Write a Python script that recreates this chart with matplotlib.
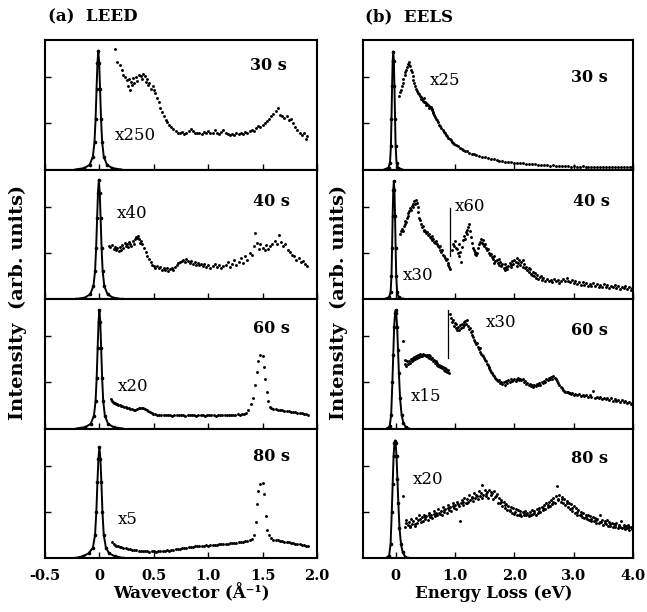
import matplotlib
matplotlib.use("Agg")
import matplotlib.pyplot as plt

plt.rcParams['font.family'] = ['DejaVu Serif']

# ---------------- (a) LEED data ----------------
leed_xticks = [-0.5, 0, 0.5, 1.0, 1.5, 2.0]
leed_xticklabels = ['-0.5', '0', '0.5', '1.0', '1.5', '2.0']

leed30_peak_x = [-0.22, -0.14, -0.09, -0.06, -0.045, -0.035, -0.026, -0.018, -0.01, -0.002, 0.006, 0.015, 0.025, 0.04, 0.07, 0.12, 0.20]
leed30_peak_y = [0, 0.03, 0.1, 0.28, 0.6, 1.1, 1.75, 2.3, 2.57, 2.3, 1.75, 1.1, 0.6, 0.28, 0.1, 0.03, 0]
leed40_peak_x = [-0.215, -0.135, -0.085, -0.055, -0.04, -0.03, -0.021, -0.013, -0.005, 0.003, 0.011, 0.02, 0.03, 0.045, 0.075, 0.125, 0.205]
leed40_peak_y = [0, 0.03, 0.1, 0.28, 0.6, 1.1, 1.75, 2.3, 2.58, 2.3, 1.75, 1.1, 0.6, 0.28, 0.1, 0.03, 0]
leed60_peak_x = [-0.21, -0.13, -0.08, -0.05, -0.035, -0.025, -0.016, -0.008, 0.0, 0.008, 0.016, 0.025, 0.035, 0.05, 0.08, 0.13, 0.21]
leed60_peak_y = [0, 0.03, 0.1, 0.28, 0.6, 1.1, 1.75, 2.3, 2.56, 2.3, 1.75, 1.1, 0.6, 0.28, 0.1, 0.03, 0]
leed80_peak_x = [-0.22, -0.15, -0.1, -0.06, -0.04, -0.028, -0.018, -0.009, 0.0, 0.009, 0.018, 0.028, 0.04, 0.06, 0.09, 0.14, 0.22]
leed80_peak_y = [0, 0.04, 0.1, 0.22, 0.5, 1.0, 1.65, 2.15, 2.39, 2.15, 1.65, 1.0, 0.5, 0.22, 0.1, 0.04, 0]

leed30_x = [0.14, 0.165, 0.185, 0.205, 0.22, 0.235, 0.25, 0.26, 0.27, 0.28, 0.29, 0.30, 0.31, 0.32, 0.335, 0.35,
            0.365, 0.38, 0.39, 0.40, 0.415, 0.43, 0.44, 0.45, 0.46, 0.475, 0.49, 0.50, 0.515, 0.53, 0.545, 0.56,
            0.575, 0.59, 0.61, 0.625, 0.64, 0.66, 0.68, 0.70, 0.72, 0.74, 0.76, 0.78, 0.80, 0.82, 0.84, 0.86,
            0.88, 0.90, 0.92, 0.94, 0.96, 0.98, 1.00, 1.02, 1.04, 1.06, 1.08, 1.10, 1.12, 1.14, 1.16, 1.18,
            1.20, 1.22, 1.24, 1.26, 1.28, 1.30, 1.32, 1.34, 1.36, 1.38, 1.40, 1.42, 1.44, 1.46, 1.48, 1.50,
            1.52, 1.54, 1.56, 1.58, 1.60, 1.62, 1.64, 1.66, 1.68, 1.70, 1.72, 1.74, 1.76, 1.78, 1.80, 1.82,
            1.84, 1.86, 1.88, 1.90, 1.91]
leed30_y = [2.60, 2.32, 2.25, 2.16, 2.05, 2.00, 1.93, 1.80, 1.95, 1.72, 1.90, 1.83, 1.97, 1.86, 2.00, 1.92,
            2.05, 2.02, 1.95, 2.07, 2.03, 1.90, 1.95, 1.82, 1.88, 1.75, 1.80, 1.72, 1.65, 1.55, 1.45, 1.33,
            1.25, 1.15, 1.08, 1.02, 0.97, 0.92, 0.88, 0.84, 0.80, 0.78, 0.82, 0.76, 0.80, 0.84, 0.88, 0.83,
            0.78, 0.80, 0.78, 0.77, 0.82, 0.79, 0.84, 0.78, 0.80, 0.86, 0.79, 0.77, 0.81, 0.86, 0.78, 0.76,
            0.74, 0.76, 0.75, 0.78, 0.76, 0.80, 0.77, 0.82, 0.78, 0.84, 0.86, 0.83, 0.90, 0.94, 0.91, 0.97,
            1.00, 1.05, 1.10, 1.16, 1.20, 1.27, 1.32, 1.18, 1.16, 1.12, 1.15, 1.08, 1.10, 1.00, 0.92, 0.86,
            0.80, 0.74, 0.78, 0.66, 0.72]

leed40_x = [0.09, 0.10, 0.115, 0.13, 0.14, 0.155, 0.165, 0.18, 0.19, 0.20, 0.21, 0.22, 0.235, 0.245, 0.255, 0.265,
            0.275, 0.285, 0.295, 0.305, 0.315, 0.325, 0.335, 0.345, 0.355, 0.365, 0.375, 0.385, 0.395, 0.41, 0.425,
            0.44, 0.455, 0.47, 0.485, 0.50, 0.515, 0.53, 0.545, 0.56, 0.575, 0.59, 0.605, 0.62, 0.635, 0.65, 0.665,
            0.68, 0.695, 0.71, 0.725, 0.74, 0.755, 0.77, 0.785, 0.80, 0.815, 0.83, 0.845, 0.86, 0.875, 0.89, 0.905,
            0.92, 0.935, 0.95, 0.965, 0.98, 1.00, 1.02, 1.04, 1.06, 1.08, 1.10, 1.12, 1.14, 1.16, 1.18, 1.20,
            1.22, 1.24, 1.26, 1.28, 1.30, 1.32, 1.34, 1.36, 1.38, 1.40, 1.42, 1.43, 1.45, 1.47, 1.48, 1.50,
            1.52, 1.53, 1.55, 1.57, 1.59, 1.61, 1.63, 1.65, 1.67, 1.69, 1.71, 1.73, 1.75, 1.77, 1.79, 1.81,
            1.83, 1.85, 1.87, 1.89, 1.91]
leed40_y = [1.15, 1.12, 1.16, 1.08, 1.12, 1.05, 1.10, 1.03, 1.12, 1.07, 1.16, 1.10, 1.22, 1.15, 1.20, 1.12,
            1.24, 1.18, 1.14, 1.26, 1.20, 1.30, 1.35, 1.32, 1.37, 1.30, 1.22, 1.26, 1.18, 1.10, 1.02,
            0.94, 0.86, 0.80, 0.74, 0.71, 0.68, 0.72, 0.66, 0.70, 0.63, 0.67, 0.62, 0.66, 0.61, 0.65, 0.68,
            0.63, 0.70, 0.73, 0.77, 0.80, 0.82, 0.85, 0.80, 0.87, 0.83, 0.78, 0.82, 0.76, 0.80, 0.74, 0.78,
            0.73, 0.76, 0.72, 0.75, 0.70, 0.74, 0.68, 0.72, 0.76, 0.69, 0.73, 0.67, 0.71, 0.74, 0.79, 0.70,
            0.76, 0.84, 0.74, 0.80, 0.88, 0.77, 0.92, 0.85, 1.00, 0.95, 1.14, 1.42, 1.22, 1.08, 1.18, 1.10,
            1.05, 1.16, 1.08, 1.14, 1.20, 1.25, 1.18, 1.38, 1.24, 1.15, 1.20, 1.06, 1.02, 0.95, 0.92, 0.85,
            0.88, 0.80, 0.83, 0.76, 0.72]

leed60_x = [0.105, 0.115, 0.125, 0.135, 0.145, 0.155, 0.165, 0.175, 0.185, 0.195, 0.21, 0.225, 0.24, 0.255, 0.27,
            0.285, 0.30, 0.315, 0.33, 0.345, 0.36, 0.375, 0.39, 0.405, 0.42, 0.435, 0.45, 0.465, 0.48, 0.495,
            0.51, 0.53, 0.55, 0.57, 0.59, 0.61, 0.63, 0.65, 0.67, 0.69, 0.71, 0.73, 0.75, 0.77, 0.79, 0.81,
            0.83, 0.85, 0.87, 0.89, 0.91, 0.93, 0.95, 0.97, 0.99, 1.01, 1.03, 1.05, 1.07, 1.09, 1.11, 1.13,
            1.15, 1.17, 1.19, 1.21, 1.23, 1.25, 1.27, 1.29, 1.31, 1.33, 1.35, 1.37, 1.39, 1.41, 1.43, 1.445,
            1.46, 1.48, 1.50, 1.515, 1.525, 1.54, 1.55, 1.565, 1.58, 1.60, 1.62, 1.64, 1.66, 1.68, 1.70, 1.72,
            1.74, 1.76, 1.78, 1.80, 1.82, 1.84, 1.86, 1.88, 1.90, 1.92]
leed60_y = [0.64, 0.60, 0.58, 0.56, 0.55, 0.53, 0.53, 0.51, 0.50, 0.49, 0.48, 0.47, 0.46, 0.45, 0.44,
            0.43, 0.42, 0.41, 0.41, 0.42, 0.44, 0.45, 0.45, 0.44, 0.42, 0.40, 0.38, 0.36, 0.34, 0.32,
            0.31, 0.30, 0.29, 0.30, 0.29, 0.29, 0.30, 0.29, 0.28, 0.29, 0.29, 0.30, 0.29, 0.29, 0.28, 0.29,
            0.30, 0.29, 0.29, 0.28, 0.29, 0.30, 0.29, 0.28, 0.29, 0.29, 0.30, 0.29, 0.28, 0.29, 0.29, 0.30,
            0.29, 0.29, 0.30, 0.29, 0.30, 0.30, 0.31, 0.30, 0.31, 0.32, 0.34, 0.40, 0.52, 0.66, 0.95, 1.22,
            1.45, 1.59, 1.56, 1.34, 1.06, 0.80, 0.59, 0.47, 0.44, 0.43, 0.42, 0.41, 0.40, 0.39, 0.38, 0.38,
            0.37, 0.36, 0.35, 0.35, 0.34, 0.33, 0.33, 0.32, 0.31, 0.30]

leed80_x = [0.12, 0.13, 0.14, 0.155, 0.17, 0.185, 0.20, 0.22, 0.24, 0.26, 0.28, 0.30, 0.32, 0.34, 0.36, 0.38,
            0.40, 0.42, 0.44, 0.46, 0.48, 0.50, 0.52, 0.54, 0.56, 0.58, 0.60, 0.62, 0.64, 0.66, 0.68, 0.70,
            0.72, 0.74, 0.76, 0.78, 0.80, 0.82, 0.84, 0.86, 0.88, 0.90, 0.92, 0.94, 0.96, 0.98, 1.00, 1.02,
            1.04, 1.06, 1.08, 1.10, 1.12, 1.14, 1.16, 1.18, 1.20, 1.22, 1.24, 1.26, 1.28, 1.30, 1.32, 1.34,
            1.36, 1.38, 1.40, 1.42, 1.44, 1.45, 1.46, 1.48, 1.50, 1.515, 1.53, 1.545, 1.56, 1.58, 1.60, 1.62,
            1.64, 1.66, 1.68, 1.70, 1.72, 1.74, 1.76, 1.78, 1.80, 1.82, 1.84, 1.86, 1.88, 1.90, 1.92]
leed80_y = [0.35, 0.31, 0.29, 0.27, 0.25, 0.24, 0.23, 0.22, 0.21, 0.20, 0.19, 0.18, 0.17, 0.17, 0.16, 0.16,
            0.15, 0.15, 0.15, 0.14, 0.15, 0.15, 0.14, 0.15, 0.16, 0.15, 0.16, 0.17, 0.16, 0.17, 0.18, 0.19,
            0.19, 0.20, 0.21, 0.21, 0.22, 0.23, 0.24, 0.23, 0.25, 0.25, 0.26, 0.26, 0.27, 0.28, 0.27, 0.28,
            0.29, 0.28, 0.29, 0.30, 0.30, 0.31, 0.30, 0.31, 0.32, 0.32, 0.33, 0.33, 0.34, 0.34, 0.35, 0.36,
            0.37, 0.39, 0.42, 0.50, 0.77, 1.17, 1.45, 1.61, 1.62, 1.39, 0.90, 0.61, 0.50, 0.43, 0.40, 0.39,
            0.38, 0.37, 0.36, 0.35, 0.34, 0.34, 0.33, 0.32, 0.31, 0.31, 0.30, 0.29, 0.28, 0.27, 0.26]

# ---------------- (b) EELS data ----------------
eels_xticks = [0, 1.0, 2.0, 3.0, 4.0]
eels_xticklabels = ['0', '1.0', '2.0', '3.0', '4.0']

eels30_peak_x = [-0.19, -0.12, -0.095, -0.08, -0.07, -0.06, -0.05, -0.04, -0.03, -0.02, -0.01, 0.0, 0.015, 0.04, 0.11]
eels30_peak_y = [0, 0.04, 0.15, 0.5, 1.1, 1.8, 2.35, 2.55, 2.35, 1.8, 1.1, 0.5, 0.15, 0.04, 0]
eels40_peak_x = [-0.18, -0.11, -0.085, -0.07, -0.06, -0.05, -0.04, -0.03, -0.02, -0.01, 0.0, 0.01, 0.025, 0.05, 0.12]
eels40_peak_y = [0, 0.04, 0.15, 0.5, 1.1, 1.8, 2.35, 2.55, 2.35, 1.8, 1.1, 0.5, 0.15, 0.04, 0]
eels60_peak_x = [-0.15, -0.1, -0.075, -0.055, -0.04, -0.025, -0.01, 0.0, 0.01, 0.025, 0.04, 0.055, 0.075, 0.1, 0.13, 0.17, 0.22]
eels60_peak_y = [0, 0.05, 0.3, 1.0, 1.6, 2.2, 2.5, 2.56, 2.5, 2.2, 1.7, 1.2, 0.65, 0.3, 0.12, 0.03, 0]
eels80_peak_x = [-0.16, -0.11, -0.085, -0.065, -0.05, -0.035, -0.02, -0.01, 0.0, 0.015, 0.03, 0.045, 0.065, 0.09, 0.12, 0.16, 0.21]
eels80_peak_y = [0, 0.05, 0.3, 1.0, 1.6, 2.2, 2.48, 2.54, 2.48, 2.2, 1.7, 1.2, 0.65, 0.3, 0.12, 0.03, 0]

eels30_x = [0.05, 0.07, 0.09, 0.10, 0.12, 0.13, 0.15, 0.16, 0.18, 0.19, 0.21, 0.22, 0.23, 0.245, 0.26, 0.27,
            0.285, 0.30, 0.31, 0.33, 0.345, 0.36, 0.375, 0.39, 0.405, 0.42, 0.435, 0.45, 0.465, 0.47, 0.48, 0.50,
            0.515, 0.52, 0.53, 0.545, 0.56, 0.57, 0.575, 0.59, 0.60, 0.605, 0.62, 0.63, 0.635, 0.65, 0.665, 0.68,
            0.695, 0.71, 0.73, 0.75, 0.77, 0.79, 0.81, 0.83, 0.85, 0.87, 0.89, 0.91, 0.93, 0.95, 0.97, 0.99,
            1.02, 1.05, 1.08, 1.11, 1.14, 1.17, 1.20, 1.24, 1.28, 1.32, 1.36, 1.40, 1.45, 1.50, 1.55, 1.60,
            1.65, 1.70, 1.75, 1.80, 1.85, 1.90, 1.95, 2.00, 2.05, 2.10, 2.15, 2.20, 2.25, 2.30, 2.35, 2.40,
            2.45, 2.50, 2.55, 2.60, 2.65, 2.70, 2.75, 2.80, 2.85, 2.90, 2.95, 3.00, 3.05, 3.10, 3.15, 3.20,
            3.25, 3.30, 3.35, 3.40, 3.45, 3.50, 3.55, 3.60, 3.65, 3.70, 3.75, 3.80, 3.85, 3.90, 3.95, 3.98]
eels30_y = [1.60, 1.68, 1.72, 1.80, 1.88, 1.95, 2.05, 2.10, 2.15, 2.22, 2.28, 2.32, 2.26, 2.24, 2.15, 2.10,
            2.02, 1.93, 1.88, 1.80, 1.74, 1.70, 1.66, 1.63, 1.58, 1.56, 1.53, 1.52, 1.49, 1.55, 1.47, 1.45,
            1.43, 1.40, 1.42, 1.40, 1.37, 1.33, 1.35, 1.32, 1.36, 1.30, 1.28, 1.25, 1.22, 1.18, 1.14, 1.10,
            1.06, 1.02, 0.97, 0.93, 0.89, 0.85, 0.82, 0.78, 0.75, 0.72, 0.69, 0.66, 0.63, 0.60, 0.58, 0.56,
            0.53, 0.50, 0.47, 0.45, 0.43, 0.41, 0.39, 0.36, 0.34, 0.33, 0.31, 0.29, 0.27, 0.26, 0.24, 0.23,
            0.22, 0.20, 0.19, 0.18, 0.17, 0.17, 0.16, 0.15, 0.14, 0.14, 0.13, 0.12, 0.12, 0.11, 0.11, 0.10,
            0.10, 0.09, 0.09, 0.08, 0.09, 0.08, 0.07, 0.08, 0.07, 0.07, 0.06, 0.07, 0.06, 0.06, 0.07, 0.06,
            0.05, 0.06, 0.05, 0.06, 0.05, 0.06, 0.05, 0.05, 0.06, 0.05, 0.05, 0.06, 0.05, 0.05, 0.06, 0.05]

eels40a_x = [0.08, 0.095, 0.11, 0.12, 0.135, 0.15, 0.16, 0.175, 0.19, 0.20, 0.215, 0.23, 0.245, 0.26, 0.27,
             0.285, 0.30, 0.31, 0.325, 0.34, 0.355, 0.37, 0.385, 0.40, 0.41, 0.425, 0.44, 0.455, 0.47, 0.485,
             0.50, 0.515, 0.53, 0.545, 0.56, 0.575, 0.59, 0.605, 0.62, 0.635, 0.65, 0.665, 0.68, 0.695, 0.71,
             0.725, 0.74, 0.755, 0.77, 0.785, 0.80, 0.815, 0.83, 0.845, 0.86, 0.875, 0.89, 0.905, 0.92]
eels40a_y = [1.40, 1.46, 1.52, 1.48, 1.58, 1.62, 1.68, 1.66, 1.75, 1.80, 1.85, 1.90, 1.96, 1.92, 2.02,
             2.06, 2.00, 2.12, 2.05, 2.15, 2.08, 1.98, 1.88, 1.75, 1.70, 1.62, 1.55, 1.58, 1.50, 1.46,
             1.48, 1.42, 1.44, 1.38, 1.40, 1.35, 1.32, 1.36, 1.28, 1.30, 1.24, 1.22, 1.25, 1.18, 1.15,
             1.12, 1.15, 1.06, 1.02, 1.05, 0.96, 0.92, 0.88, 0.84, 0.86, 0.78, 0.74, 0.70, 0.64]

eels40b_x = [0.95, 0.97, 0.985, 1.00, 1.015, 1.03, 1.045, 1.06, 1.075, 1.09, 1.105, 1.12, 1.135, 1.15, 1.165,
             1.18, 1.195, 1.21, 1.225, 1.24, 1.255, 1.27, 1.285, 1.30, 1.315, 1.33, 1.345, 1.36, 1.375, 1.39,
             1.405, 1.42, 1.435, 1.45, 1.465, 1.48, 1.495, 1.51, 1.525, 1.54, 1.555, 1.57, 1.585, 1.60, 1.62,
             1.64, 1.65, 1.66, 1.68, 1.70, 1.72, 1.74, 1.75, 1.76, 1.78, 1.80, 1.82, 1.84, 1.85, 1.86, 1.88,
             1.90, 1.92, 1.94, 1.95, 1.96, 1.98, 2.00, 2.02, 2.04, 2.05, 2.06, 2.08, 2.10, 2.12, 2.14, 2.15,
             2.16, 2.18, 2.20, 2.22, 2.24, 2.25, 2.26, 2.28, 2.30, 2.32, 2.34, 2.35, 2.36, 2.38, 2.40, 2.43,
             2.45, 2.46, 2.49, 2.52, 2.55, 2.58, 2.61, 2.64, 2.67, 2.70, 2.73, 2.76, 2.79, 2.82, 2.85, 2.88,
             2.91, 2.94, 2.97, 3.00, 3.03, 3.06, 3.09, 3.12, 3.15, 3.18, 3.21, 3.24, 3.27, 3.30, 3.33, 3.36,
             3.39, 3.42, 3.45, 3.48, 3.51, 3.54, 3.57, 3.60, 3.63, 3.66, 3.69, 3.72, 3.75, 3.78, 3.81, 3.84,
             3.87, 3.90, 3.93, 3.96, 3.99]
eels40b_y = [1.05, 1.20, 1.15, 1.25, 1.10, 1.08, 1.00, 1.18, 0.92, 1.02, 0.80, 1.12, 1.28, 1.36, 1.30,
             1.45, 1.40, 1.50, 1.56, 1.62, 1.48, 1.35, 1.22, 1.10, 1.05, 0.98, 1.02, 0.95, 1.00, 1.10,
             1.18, 1.24, 1.30, 1.22, 1.28, 1.20, 1.15, 1.18, 1.10, 1.05, 1.08, 1.00, 0.95, 0.98, 0.90,
             0.86, 0.78, 0.92, 0.82, 0.85, 0.78, 0.74, 0.86, 0.80, 0.72, 0.76, 0.68, 0.75, 0.62, 0.70, 0.64,
             0.72, 0.78, 0.70, 0.74, 0.82, 0.76, 0.85, 0.80, 0.88, 0.72, 0.78, 0.84, 0.74, 0.80, 0.70, 0.84,
             0.76, 0.66, 0.70, 0.62, 0.58, 0.68, 0.64, 0.55, 0.52, 0.58, 0.50, 0.56, 0.46, 0.52, 0.44, 0.48,
             0.50, 0.42, 0.46, 0.40, 0.44, 0.38, 0.42, 0.37, 0.44, 0.38, 0.41, 0.35, 0.40, 0.44, 0.38, 0.46,
             0.40, 0.36, 0.42, 0.35, 0.39, 0.33, 0.37, 0.31, 0.36, 0.30, 0.34, 0.28, 0.33, 0.29, 0.35, 0.28,
             0.32, 0.26, 0.31, 0.27, 0.33, 0.26, 0.30, 0.24, 0.29, 0.25, 0.31, 0.24, 0.28, 0.22, 0.27, 0.23,
             0.28, 0.21, 0.25, 0.20, 0.23]
eels40_sep_x = [0.92, 0.92]
eels40_sep_y = [0.93, 1.97]

eels60a_x = [0.12, 0.150, 0.165, 0.180, 0.195, 0.210, 0.225, 0.240, 0.255, 0.270, 0.285, 0.300, 0.315, 0.330, 0.345,
             0.360, 0.375, 0.390, 0.405, 0.420, 0.435, 0.450, 0.465, 0.480, 0.495, 0.510, 0.525, 0.540, 0.555,
             0.570, 0.585, 0.600, 0.615, 0.630, 0.645, 0.660, 0.675, 0.690, 0.705, 0.720, 0.735, 0.750, 0.765,
             0.780, 0.795, 0.810, 0.825, 0.840, 0.855, 0.870, 0.885, 0.900]
eels60a_y = [1.90, 1.48, 1.40, 1.36, 1.45, 1.40, 1.47, 1.42, 1.50, 1.45, 1.52, 1.48, 1.55, 1.50, 1.57,
             1.53, 1.59, 1.55, 1.61, 1.56, 1.60, 1.57, 1.62, 1.58, 1.60, 1.56, 1.60, 1.55, 1.58,
             1.52, 1.56, 1.50, 1.53, 1.46, 1.49, 1.42, 1.45, 1.38, 1.41, 1.35, 1.38, 1.32, 1.35,
             1.30, 1.33, 1.27, 1.30, 1.25, 1.28, 1.22, 1.26, 1.20]

eels60b_x = [0.92, 0.935, 0.95, 0.965, 0.98, 0.995, 1.01, 1.025, 1.04, 1.055, 1.07, 1.085, 1.10, 1.115, 1.13,
             1.145, 1.16, 1.175, 1.19, 1.205, 1.22, 1.235, 1.25, 1.265, 1.28, 1.295, 1.31, 1.325, 1.34, 1.355,
             1.37, 1.385, 1.40, 1.415, 1.43, 1.445, 1.46, 1.475, 1.49, 1.505, 1.52, 1.535, 1.55, 1.565, 1.58,
             1.595, 1.61, 1.625, 1.64, 1.655, 1.67, 1.685, 1.70, 1.72, 1.74, 1.76, 1.78, 1.80, 1.82, 1.84,
             1.86, 1.88, 1.90, 1.92, 1.94, 1.96, 1.98, 2.00, 2.02, 2.04, 2.06, 2.08, 2.10, 2.12, 2.14, 2.16,
             2.18, 2.20, 2.22, 2.24, 2.26, 2.28, 2.30, 2.32, 2.34, 2.36, 2.38, 2.40, 2.42, 2.44, 2.46, 2.48,
             2.50, 2.52, 2.54, 2.56, 2.58, 2.60, 2.62, 2.64, 2.66, 2.68, 2.70, 2.72, 2.74, 2.76, 2.78, 2.80,
             2.82, 2.84, 2.86, 2.88, 2.90, 2.92, 2.94, 2.96, 2.98, 3.00, 3.03, 3.06, 3.09, 3.12, 3.15, 3.18,
             3.21, 3.24, 3.27, 3.30, 3.33, 3.36, 3.39, 3.42, 3.45, 3.48, 3.51, 3.54, 3.57, 3.60, 3.63, 3.66,
             3.69, 3.72, 3.75, 3.78, 3.81, 3.84, 3.87, 3.90, 3.93, 3.96, 3.99]
eels60b_y = [2.48, 2.38, 2.30, 2.34, 2.22, 2.28, 2.18, 2.25, 2.14, 2.20, 2.12, 2.24, 2.18, 2.26, 2.20,
             2.30, 2.24, 2.32, 2.26, 2.34, 2.22, 2.15, 2.18, 2.08, 2.10, 2.02, 1.98, 1.92, 1.88, 1.82,
             1.85, 1.76, 1.72, 1.74, 1.66, 1.62, 1.60, 1.56, 1.52, 1.48, 1.45, 1.40, 1.38, 1.33, 1.30,
             1.26, 1.22, 1.20, 1.16, 1.14, 1.10, 1.08, 1.05, 1.02, 1.04, 0.98, 1.00, 0.96, 1.00, 0.95,
             1.02, 0.98, 1.04, 1.00, 1.06, 1.02, 1.05, 1.08, 1.02, 1.06, 1.10, 1.05, 1.08, 1.04, 1.06, 1.00,
             1.02, 0.96, 0.98, 0.94, 0.96, 0.92, 0.95, 0.90, 0.94, 0.92, 0.96, 0.93, 0.98, 0.95, 1.00, 0.98,
             1.03, 1.00, 1.06, 1.04, 1.10, 1.06, 1.12, 1.08, 1.14, 1.10, 1.06, 1.02, 0.98, 0.94, 0.90, 0.87,
             0.84, 0.82, 0.80, 0.78, 0.79, 0.76, 0.77, 0.74, 0.76, 0.73, 0.75, 0.72, 0.74, 0.71, 0.73, 0.70,
             0.72, 0.69, 0.73, 0.68, 0.82, 0.67, 0.69, 0.65, 0.68, 0.64, 0.67, 0.63, 0.66, 0.62, 0.65, 0.60,
             0.63, 0.59, 0.62, 0.58, 0.61, 0.57, 0.60, 0.55, 0.58, 0.54, 0.56]
eels60_sep_x = [0.89, 0.89]
eels60_sep_y = [1.52, 2.56]

eels80_x = [0.12, 0.16, 0.18, 0.20, 0.22, 0.24, 0.26, 0.28, 0.30, 0.32, 0.34, 0.36, 0.38, 0.40, 0.42, 0.44,
            0.46, 0.48, 0.50, 0.52, 0.54, 0.56, 0.58, 0.60, 0.62, 0.64, 0.66, 0.68, 0.70, 0.72, 0.74, 0.76,
            0.78, 0.80, 0.82, 0.84, 0.86, 0.88, 0.90, 0.92, 0.94, 0.96, 0.98, 1.00, 1.02, 1.04, 1.06, 1.08,
            1.10, 1.12, 1.14, 1.16, 1.18, 1.20, 1.22, 1.24, 1.26, 1.28, 1.30, 1.32, 1.34, 1.36, 1.38, 1.40,
            1.42, 1.44, 1.46, 1.48, 1.50, 1.52, 1.54, 1.56, 1.58, 1.60, 1.62, 1.64, 1.66, 1.68, 1.70, 1.72,
            1.74, 1.76, 1.78, 1.80, 1.82, 1.84, 1.86, 1.88, 1.90, 1.92, 1.94, 1.96, 1.98, 2.00, 2.02, 2.04,
            2.06, 2.08, 2.10, 2.12, 2.14, 2.16, 2.18, 2.20, 2.22, 2.24, 2.26, 2.28, 2.30, 2.32, 2.34, 2.36,
            2.38, 2.40, 2.42, 2.44, 2.46, 2.48, 2.50, 2.52, 2.54, 2.56, 2.58, 2.60, 2.62, 2.64, 2.66, 2.68,
            2.70, 2.72, 2.74, 2.76, 2.78, 2.80, 2.82, 2.84, 2.86, 2.88, 2.90, 2.92, 2.94, 2.96, 2.98, 3.00,
            3.02, 3.04, 3.06, 3.08, 3.10, 3.12, 3.14, 3.16, 3.18, 3.20, 3.22, 3.24, 3.26, 3.28, 3.30, 3.32,
            3.34, 3.36, 3.38, 3.40, 3.42, 3.44, 3.46, 3.48, 3.50, 3.52, 3.54, 3.56, 3.58, 3.60, 3.62, 3.64,
            3.66, 3.68, 3.70, 3.72, 3.74, 3.76, 3.78, 3.80, 3.82, 3.84, 3.86, 3.88, 3.90, 3.92, 3.94, 3.96,
            3.98]
eels80_y = [1.33, 0.68, 0.82, 0.72, 0.78, 0.66, 0.84, 0.74, 0.80, 0.70, 0.86, 0.76, 0.82, 0.92, 0.78, 0.88,
            0.80, 0.94, 0.84, 0.90, 0.82, 0.98, 0.88, 0.94, 0.86, 1.02, 0.90, 0.98, 0.92, 1.06, 0.96, 1.02,
            0.94, 1.10, 1.00, 1.06, 0.98, 1.14, 1.04, 1.10, 1.02, 1.18, 1.08, 1.14, 1.06, 1.22, 1.12, 0.80,
            1.18, 1.26, 1.14, 1.30, 1.20, 1.28, 1.22, 1.36, 1.26, 1.32, 1.24, 1.40, 1.30, 1.36, 1.28, 1.44,
            1.34, 1.40, 1.58, 1.36, 1.46, 1.34, 1.42, 1.30, 1.48, 1.36, 1.40, 1.28, 1.44, 1.32, 1.38, 1.20,
            1.30, 1.18, 1.26, 1.12, 1.22, 1.08, 1.16, 1.04, 1.12, 1.02, 1.10, 0.98, 1.08, 0.96, 1.06, 0.94,
            1.04, 0.92, 1.02, 0.90, 1.00, 0.94, 1.02, 0.92, 0.98, 0.90, 1.00, 0.94, 1.04, 0.96, 1.02, 0.94,
            1.06, 0.98, 1.08, 1.00, 1.10, 1.04, 1.14, 1.06, 1.18, 1.10, 1.22, 1.12, 1.26, 1.16, 1.30, 1.20,
            1.34, 1.55, 1.26, 1.36, 1.22, 1.32, 1.18, 1.28, 1.14, 1.24, 1.10, 1.20, 1.06, 1.16, 1.02, 1.12,
            0.98, 1.08, 0.94, 1.04, 0.92, 1.00, 0.88, 0.98, 0.86, 0.94, 0.84, 0.92, 0.82, 0.90, 0.80, 0.88,
            0.80, 0.86, 0.76, 0.84, 0.76, 0.92, 0.78, 0.82, 0.72, 0.80, 0.74, 0.82, 0.70, 0.78, 0.70, 0.76,
            0.66, 0.74, 0.68, 0.76, 0.64, 0.72, 0.66, 0.80, 0.64, 0.72, 0.62, 0.70, 0.64, 0.72, 0.60, 0.68,
            0.62]
# additional scattered dots of the 80 s spectrum
eels80b_x = [0.17, 0.25, 0.33, 0.41, 0.49, 0.57, 0.65, 0.73, 0.81, 0.89, 0.97, 1.05, 1.13, 1.21, 1.29, 1.37,
             1.45, 1.53, 1.61, 1.69, 1.77, 1.85, 1.93, 2.01, 2.09, 2.17, 2.25, 2.33, 2.41, 2.49, 2.57, 2.65,
             2.73, 2.81, 2.89, 2.97, 3.05, 3.13, 3.21, 3.29, 3.37, 3.45, 3.53, 3.61, 3.69, 3.77, 3.85, 3.93]
eels80b_y = [0.76, 0.70, 0.74, 0.84, 0.88, 0.92, 0.96, 0.98, 1.04, 1.08, 1.12, 1.16, 1.22, 1.20, 1.30, 1.34,
             1.30, 1.38, 1.42, 1.34, 1.22, 1.14, 1.04, 1.00, 0.96, 0.98, 0.94, 0.98, 1.02, 1.08, 1.14, 1.22,
             1.28, 1.28, 1.18, 1.08, 1.00, 0.94, 0.88, 0.84, 0.82, 0.78, 0.76, 0.74, 0.72, 0.70, 0.66, 0.66]

# ---------------- labels ----------------
times = ['30 s', '40 s', '60 s', '80 s']
leed_factors = ['x250', 'x40', 'x20', 'x5']
leed_factor_pos = [(0.257, 0.26), (0.264, 0.66), (0.268, 0.325), (0.268, 0.295)]
leed_time_pos = [(0.754, 0.805), (0.765, 0.755), (0.765, 0.775), (0.765, 0.785)]
eels_time_pos = [(0.77, 0.71), (0.778, 0.755), (0.77, 0.76), (0.77, 0.77)]
eels_factors = [[('x25', 0.247, 0.685)],
                [('x60', 0.34, 0.715), ('x30', 0.148, 0.18)],
                [('x30', 0.455, 0.82), ('x15', 0.178, 0.25)],
                [('x20', 0.185, 0.605)]]

leed_peaks = [(leed30_peak_x, leed30_peak_y), (leed40_peak_x, leed40_peak_y),
              (leed60_peak_x, leed60_peak_y), (leed80_peak_x, leed80_peak_y)]
leed_series = [[(leed30_x, leed30_y)], [(leed40_x, leed40_y)], [(leed60_x, leed60_y)], [(leed80_x, leed80_y)]]
eels_peaks = [(eels30_peak_x, eels30_peak_y), (eels40_peak_x, eels40_peak_y),
              (eels60_peak_x, eels60_peak_y), (eels80_peak_x, eels80_peak_y)]
eels_series = [[(eels30_x, eels30_y)], [(eels40a_x, eels40a_y), (eels40b_x, eels40b_y)],
               [(eels60a_x, eels60a_y), (eels60b_x, eels60b_y)],
               [(eels80_x, eels80_y), (eels80b_x, eels80b_y)]]
eels_seps = [None, (eels40_sep_x, eels40_sep_y), (eels60_sep_x, eels60_sep_y), None]

# ---------------- figure ----------------
W_PX, H_PX = 647, 612
fig = plt.figure(figsize=(W_PX / 100, H_PX / 100), dpi=100)

top = 1 - 40 / H_PX
bottom = 1 - 558 / H_PX
ph = (top - bottom) / 4

def make_col(left_px, right_px, xlim, xticks, xticklabels, peaks, series, time_pos, factor_list, seps):
    axes = []
    for i in range(4):
        ax = fig.add_axes([left_px / W_PX, top - (i + 1) * ph, (right_px - left_px) / W_PX, ph])
        ax.set_xlim(*xlim)
        ax.set_ylim(0, 2.8)
        px, py = peaks[i]
        ax.plot(px, py, color='black', lw=1.4, marker='o', ms=1.6, zorder=3)
        for sx, sy in series[i]:
            ax.plot(sx, sy, ls='none', marker='o', ms=2.1, color='black', mec='none')
        if seps[i] is not None:
            ax.plot(seps[i][0], seps[i][1], color='black', lw=0.9)
        ax.set_yticks([1, 2])
        ax.set_yticklabels([])
        ax.set_xticks(xticks)
        if i == 3:
            ax.set_xticklabels(xticklabels, fontsize=10.5, fontweight='bold')
        else:
            ax.set_xticklabels([])
        ax.tick_params(direction='in', length=4, width=1.0, top=False, right=False, pad=8)
        for s in ax.spines.values():
            s.set_linewidth(1.5)
        ax.text(time_pos[i][0], time_pos[i][1], times[i], transform=ax.transAxes,
                fontsize=11.5, fontweight='bold', va='center', ha='left')
        for lab, fx, fy in factor_list[i]:
            ax.text(fx, fy, lab, transform=ax.transAxes, fontsize=12, va='center', ha='left')
        axes.append(ax)
    return axes

make_col(45, 317, (-0.5, 2.0), leed_xticks, leed_xticklabels, leed_peaks, leed_series,
         leed_time_pos, [[(leed_factors[i], leed_factor_pos[i][0], leed_factor_pos[i][1])] for i in range(4)],
         [None] * 4)
make_col(363, 633, (-0.55, 4.0), eels_xticks, eels_xticklabels, eels_peaks, eels_series,
         eels_time_pos, eels_factors, eels_seps)

fig.text(48 / W_PX, 1 - 17 / H_PX, '(a)  LEED', fontsize=12, fontweight='bold', va='center', ha='left')
fig.text(365 / W_PX, 1 - 17 / H_PX, '(b)  EELS', fontsize=12, fontweight='bold', va='center', ha='left')
fig.text(18 / W_PX, 1 - 302 / H_PX, 'Intensity  (arb. units)', rotation=90, fontsize=14,
         fontweight='bold', va='center', ha='center')
fig.text(339 / W_PX, 1 - 302 / H_PX, 'Intensity  (arb. units)', rotation=90, fontsize=14,
         fontweight='bold', va='center', ha='center')
fig.text(191 / W_PX, 1 - 593 / H_PX, 'Wavevector (Å⁻¹)', fontsize=12, fontweight='bold', va='center', ha='center')
fig.text(494 / W_PX, 1 - 593 / H_PX, 'Energy Loss (eV)', fontsize=12, fontweight='bold', va='center', ha='center')

fig.savefig('out.png', dpi=100, facecolor='white')
